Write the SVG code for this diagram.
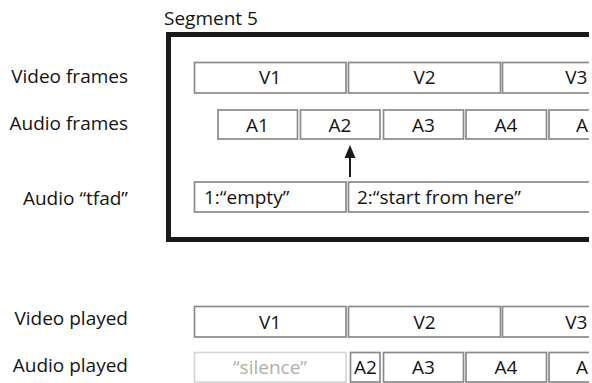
<svg xmlns="http://www.w3.org/2000/svg" width="592" height="383" viewBox="0 0 592 383">
  <style>
    text { font-family: "Open Sans", "Liberation Sans", sans-serif; font-size: 19px; fill: #141414; }
    .lbl { text-anchor: end; }
    .mid { text-anchor: middle; }
    .box { fill: #ffffff; stroke: #8a8a8a; stroke-width: 1.7; }
    .faint { fill: #ffffff; stroke: #d4d4d4; stroke-width: 1.6; }
    .faint-t { fill: #b0b0b0; }
    .seg { fill: none; stroke: #1a1a1a; stroke-width: 5; }
  </style>
  <defs>
    <clipPath id="view">
      <rect x="0" y="0" width="589" height="383"/>
    </clipPath>
  </defs>
  <rect width="592" height="383" fill="#ffffff"/>

  <!-- row labels -->
  <g id="labels">
    <text x="164" y="24.5">Segment 5</text>
    <text class="lbl" x="128" y="83">Video frames</text>
    <text class="lbl" x="128" y="129.5">Audio frames</text>
    <text class="lbl" x="128" y="205">Audio “tfad”</text>
    <text class="lbl" x="128" y="325">Video played</text>
    <text class="lbl" x="128" y="371.5">Audio played</text>
  </g>

  <g clip-path="url(#view)">
    <!-- segment outline (open to the right) -->
    <g id="segment5">
      <path class="seg" d="M 592 34.5 H 168.5 V 239.5 H 592"/>
    </g>

    <!-- video frames in the segment -->
    <g id="v1"><rect class="box" x="194.5" y="62.5" width="151.5" height="30.5"/><text class="mid" x="270" y="84">V1</text></g>
    <g id="v2"><rect class="box" x="348.5" y="62.5" width="152" height="30.5"/><text class="mid" x="424.5" y="84">V2</text></g>
    <g id="v3"><rect class="box" x="502.5" y="62.5" width="152" height="30.5"/><text class="lbl" x="587.5" y="84">V3</text></g>

    <!-- audio frames in the segment -->
    <g id="a1"><rect class="box" x="218" y="110" width="79.5" height="29"/><text class="mid" x="257.5" y="131.5">A1</text></g>
    <g id="a2"><rect class="box" x="300.5" y="110" width="79.5" height="29"/><text class="mid" x="340" y="131.5">A2</text></g>
    <g id="a3"><rect class="box" x="383.5" y="110" width="80" height="29"/><text class="mid" x="423.5" y="131.5">A3</text></g>
    <g id="a4"><rect class="box" x="466" y="110" width="80.5" height="29"/><text class="mid" x="506" y="131.5">A4</text></g>
    <g id="a5"><rect class="box" x="549" y="110" width="80.5" height="29"/><text class="lbl" x="588" y="131.5">A</text></g>

    <!-- tfad entries -->
    <g id="tfad1"><rect class="box" x="194.5" y="182" width="151.5" height="30"/><text x="204" y="204">1:“empty”</text></g>
    <g id="tfad2"><rect class="box" x="348.5" y="182" width="260" height="30"/><text x="357" y="204">2:“start from here”</text></g>

    <!-- connectors -->
    <g id="connectors">
      <line x1="350" y1="177" x2="350" y2="156" stroke="#1a1a1a" stroke-width="2"/>
      <polygon points="350,145 344.5,158 355.5,158" fill="#1a1a1a"/>
    </g>

    <!-- playback: video -->
    <g id="pv1"><rect class="box" x="194.5" y="306.5" width="151.5" height="30.5"/><text class="mid" x="270" y="329">V1</text></g>
    <g id="pv2"><rect class="box" x="348.5" y="306.5" width="152" height="30.5"/><text class="mid" x="424.5" y="329">V2</text></g>
    <g id="pv3"><rect class="box" x="502.5" y="306.5" width="152" height="30.5"/><text class="lbl" x="587.5" y="329">V3</text></g>

    <!-- playback: audio -->
    <g id="silence"><rect class="faint" x="194.5" y="352.5" width="151.5" height="29.5"/><text class="mid faint-t" x="270" y="374">“silence”</text></g>
    <g id="pa2"><rect class="box" x="350.5" y="352.5" width="29.5" height="29.5"/><text class="mid" x="365.5" y="374">A2</text></g>
    <g id="pa3"><rect class="box" x="383.5" y="352.5" width="80" height="29.5"/><text class="mid" x="423.5" y="374">A3</text></g>
    <g id="pa4"><rect class="box" x="466" y="352.5" width="80.5" height="29.5"/><text class="mid" x="506" y="374">A4</text></g>
    <g id="pa5"><rect class="box" x="549" y="352.5" width="80.5" height="29.5"/><text class="lbl" x="588" y="374">A</text></g>
  </g>
</svg>
